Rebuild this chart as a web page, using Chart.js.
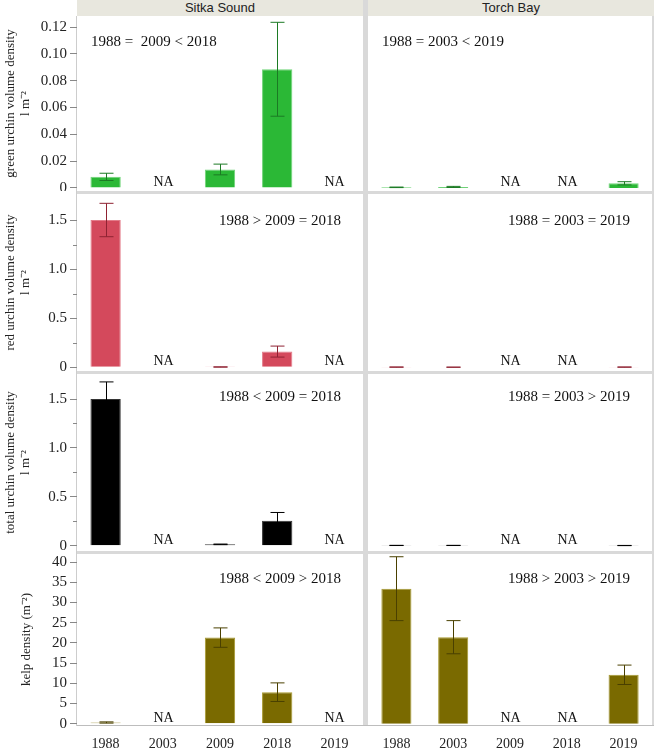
<!DOCTYPE html>
<html>
<head>
<meta charset="utf-8">
<script src="https://cdn.jsdelivr.net/npm/chart.js@4/dist/chart.umd.min.js"></script>
<style>
  body { margin: 0; background: #fff; width: 656px; height: 749px; position: relative; overflow: hidden; }
  canvas { position: absolute; }
  .band { position: absolute; background: #d9d9d9; }
  .strip { position: absolute; top: 0; height: 16px; background: #e8e7de; color: #222;
           font: 13px "Liberation Sans", Arial, sans-serif; line-height: 16px; text-align: center; }
</style>
</head>
<body>
<div class="strip" style="left:77px;width:286px">Sitka Sound</div>
<div class="strip" style="left:368px;width:286px">Torch Bay</div>
<div class="band" style="left:363px;top:0;width:5px;height:726px"></div>
<div class="band" style="left:652px;top:16px;width:2px;height:710px"></div>
<div class="band" style="left:77px;top:191px;width:577px;height:3px"></div>
<div class="band" style="left:77px;top:371px;width:577px;height:3px"></div>
<div class="band" style="left:77px;top:551px;width:577px;height:3px"></div>
<div class="band" style="left:76px;top:16px;width:1px;height:710px;background:#cdcdcd"></div>
<div class="band" style="left:77px;top:725px;width:577px;height:1px;background:#bdbdbd"></div>

<canvas id="g1" width="363" height="175" style="left:0;top:16px"></canvas>
<canvas id="g2" width="284" height="175" style="left:368px;top:16px"></canvas>
<canvas id="r1" width="363" height="177" style="left:0;top:194px"></canvas>
<canvas id="r2" width="284" height="177" style="left:368px;top:194px"></canvas>
<canvas id="t1" width="363" height="177" style="left:0;top:374px"></canvas>
<canvas id="t2" width="284" height="177" style="left:368px;top:374px"></canvas>
<canvas id="k1" width="363" height="195" style="left:0;top:554px"></canvas>
<canvas id="k2" width="284" height="195" style="left:368px;top:554px"></canvas>

<script>
// années
const years = ['1988', '2003', '2009', '2018', '2019'];

// oursins verts (l m-2)
const greenSitka = [0.0083, null, 0.0138, 0.0885, null];
const greenSitkaSE = [0.0027, null, 0.004, 0.035, null];
const greenTorch = [0.0005, 0.0008, null, null, 0.0035];
const greenTorchSE = [0.0002, 0.0004, null, null, 0.0012];

// oursins rouges
const redSitka = [1.5, null, 0.003, 0.16, null];
const redSitkaSE = [0.17, null, 0.001, 0.056, null];
const redTorch = [0.002, 0.001, null, null, 0.002];
const redTorchSE = [0.001, 0.0005, null, null, 0.001];

// total oursins
const totalSitka = [1.5, null, 0.014, 0.255, null];
const totalSitkaSE = [0.175, null, 0.003, 0.085, null];
const totalTorch = [0.003, 0.003, null, null, 0.002];
const totalTorchSE = [0.001, 0.001, null, null, 0.001];

// kelp (m-2)
const kelpSitka = [0.3, null, 21.3, 7.8, null];
const kelpSitkaSE = [0.15, null, 2.4, 2.3, null];
const kelpTorch = [33.4, 21.4, null, null, 12.1];
const kelpTorchSE = [7.9, 4.1, null, null, 2.4];

const serif = '"Liberation Serif", "Times New Roman", serif';

// barres d'erreur, NA, texte des comparaisons, petites graduations
const panelExtras = {
  id: 'panelExtras',
  afterDraw(chart, args, o) {
    const ctx = chart.ctx, xs = chart.scales.x, ys = chart.scales.y, area = chart.chartArea;
    const vals = chart.data.datasets[0].data;
    ctx.save();
    ctx.lineWidth = 1;
    ctx.strokeStyle = o.errColor;
    vals.forEach((v, i) => {
      const px = Math.round(xs.getPixelForValue(i)) + 0.5;
      if (v === null) {
        ctx.fillStyle = '#111';
        ctx.font = '14px ' + serif;
        ctx.textAlign = 'center';
        ctx.textBaseline = 'alphabetic';
        ctx.fillText('NA', px, ys.getPixelForValue(0) - 2);
        return;
      }
      const se = o.se[i];
      const top = ys.getPixelForValue(v + se);
      const bot = ys.getPixelForValue(Math.max(v - se, 0));
      ctx.beginPath();
      ctx.moveTo(px, top); ctx.lineTo(px, bot);
      ctx.moveTo(px - 7, top); ctx.lineTo(px + 7, top);
      ctx.moveTo(px - 7, bot); ctx.lineTo(px + 7, bot);
      ctx.stroke();
    });

    ctx.fillStyle = '#111';
    ctx.font = '15px ' + serif;
    ctx.textBaseline = 'middle';
    ctx.textAlign = o.noteAlign;
    const nx = o.noteAlign === 'left' ? area.left + 14 : area.right - 22;
    ctx.fillText(o.note, nx, area.top + o.noteDy);

    if (o.minor && ys.options.display) {
      ctx.strokeStyle = '#888';
      const t = ys.ticks;
      for (let i = 0; i < t.length - 1; i++) {
        const py = Math.round(ys.getPixelForValue((t[i].value + t[i + 1].value) / 2)) + 0.5;
        ctx.beginPath();
        ctx.moveTo(area.left - 4, py); ctx.lineTo(area.left, py);
        ctx.stroke();
      }
    }
    ctx.restore();
  }
};

function panel(id, cfg) {
  const left = cfg.left;
  const step = cfg.step;
  return new Chart(document.getElementById(id), {
    type: 'bar',
    data: {
      labels: years,
      datasets: [{
        data: cfg.values,
        backgroundColor: cfg.fill,
        borderColor: cfg.edge,
        borderWidth: 1,
        barPercentage: 0.53,
        categoryPercentage: 1
      }]
    },
    options: {
      responsive: false,
      animation: false,
      layout: { padding: 0 },
      plugins: {
        legend: { display: false },
        tooltip: { enabled: false },
        panelExtras: {
          se: cfg.se, errColor: cfg.err, note: cfg.note,
          noteAlign: cfg.noteAlign, noteDy: cfg.noteDy, minor: cfg.minor
        }
      },
      scales: {
        x: {
          display: !!cfg.bottom,
          grid: { display: false },
          border: { display: false },
          ticks: { font: { family: serif, size: 14 }, color: '#222', padding: 3 },
          afterFit(s) {
            if (cfg.bottom) { s.height = 24; s.paddingLeft = 0; s.paddingRight = 0; }
          }
        },
        y: {
          display: left,
          min: cfg.min,
          max: cfg.max,
          afterBuildTicks(s) {
            s.ticks = s.ticks.filter(t => t.value >= 0 && Math.abs(t.value / step - Math.round(t.value / step)) < 1e-6);
          },
          ticks: {
            stepSize: step,
            includeBounds: false,
            font: { family: serif, size: 15 },
            color: '#222',
            padding: 3,
            callback: cfg.fmt
          },
          grid: { drawOnChartArea: false, tickLength: 7, color: '#888' },
          border: { display: false },
          title: {
            display: left,
            text: cfg.title,
            color: '#222',
            font: { family: serif, size: 13, lineHeight: 1.15 },
            padding: { top: cfg.titlePad, bottom: 0 }
          },
          afterFit(s) {
            if (left) { s.width = 77; s.paddingTop = 0; s.paddingBottom = 0; }
          }
        }
      }
    },
    plugins: [panelExtras]
  });
}

const fmt2 = v => v === 0 ? '0' : v.toFixed(2);
const fmt1 = v => v === 0 ? '0' : v.toFixed(1);
const fmt0 = v => String(v);

const greenStyle = { fill: '#2bb836', edge: '#6fd478', err: '#1c7a24' };
const redStyle = { fill: '#d4495c', edge: '#e37b89', err: '#8f2232' };
const blackStyle = { fill: '#000000', edge: '#333333', err: '#000000' };
const kelpStyle = { fill: '#7a6a00', edge: '#a89a30', err: '#4a4000' };

const g = { min: -0.00224, max: 0.1282, step: 0.02, fmt: fmt2, title: ['green urchin volume density', 'l m⁻²'], titlePad: 3, noteDy: 26 };
const r = { min: -0.0377, max: 1.765, step: 0.5, fmt: fmt1, minor: true, title: ['red urchin volume density', 'l m⁻²'], titlePad: 3, noteDy: 27 };
const t = { min: -0.054, max: 1.756, step: 0.5, fmt: fmt1, minor: true, title: ['total urchin volume density', 'l m⁻²'], titlePad: 3, noteDy: 23 };
const k = { min: -0.32, max: 41.98, step: 5, fmt: fmt0, title: 'kelp density (m⁻²)', titlePad: 19, noteDy: 25, bottom: true };

panel('g1', { ...g, ...greenStyle, left: true, values: greenSitka, se: greenSitkaSE, note: '1988 =  2009 < 2018', noteAlign: 'left' });
panel('g2', { ...g, ...greenStyle, left: false, values: greenTorch, se: greenTorchSE, note: '1988 = 2003 < 2019', noteAlign: 'left' });
panel('r1', { ...r, ...redStyle, left: true, values: redSitka, se: redSitkaSE, note: '1988 > 2009 = 2018', noteAlign: 'right' });
panel('r2', { ...r, ...redStyle, left: false, values: redTorch, se: redTorchSE, note: '1988 = 2003 = 2019', noteAlign: 'right' });
panel('t1', { ...t, ...blackStyle, left: true, values: totalSitka, se: totalSitkaSE, note: '1988 < 2009 = 2018', noteAlign: 'right' });
panel('t2', { ...t, ...blackStyle, left: false, values: totalTorch, se: totalTorchSE, note: '1988 = 2003 > 2019', noteAlign: 'right' });
panel('k1', { ...k, ...kelpStyle, left: true, values: kelpSitka, se: kelpSitkaSE, note: '1988 < 2009 > 2018', noteAlign: 'right' });
panel('k2', { ...k, ...kelpStyle, left: false, values: kelpTorch, se: kelpTorchSE, note: '1988 > 2003 > 2019', noteAlign: 'right' });
</script>
</body>
</html>
